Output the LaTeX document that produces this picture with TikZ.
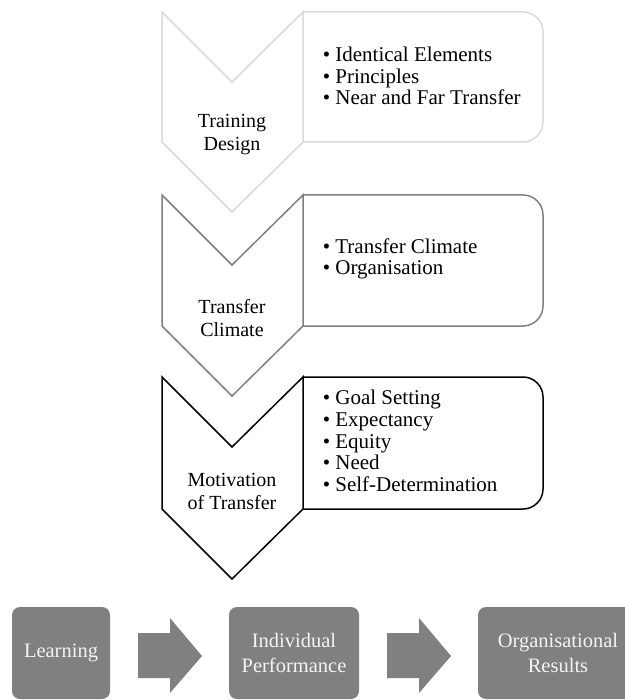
\documentclass[tikz,border=0pt]{standalone}
\usepackage{fontspec}
\setmainfont{Liberation Serif}
\definecolor{lightline}{HTML}{D9D9D9}
\definecolor{midline}{HTML}{808080}
\definecolor{blockfill}{HTML}{808080}
\definecolor{blocktext}{HTML}{F4F4F4}
\begin{document}
\begin{tikzpicture}[x=1pt, y=-1pt, line width=1.5pt, line join=miter]
  \tikzset{chevtext/.style={align=center, inner sep=0pt,
                            font=\fontsize{20}{23}\selectfont}}
  \tikzset{listtext/.style={align=left, anchor=west, inner sep=0pt,
                            font=\fontsize{21}{21.7}\selectfont}}
  \tikzset{resultbox/.style={fill=blockfill, draw=none, rounded corners=8pt,
                             text=blocktext, align=center, inner sep=0pt,
                             minimum height=92pt,
                             font=\fontsize{20.5}{25}\selectfont}}
  \useasboundingbox (0,0) rectangle (624,700);

  % training design
  \draw[lightline] (162,12) -- (232,82) -- (303,12) -- (303,142)
                   -- (232,212) -- (162,142) -- cycle;
  \draw[lightline, rounded corners=20pt] (303,12) -- (543,12) -- (543,142)
                   -- (303,142);
  \node[chevtext] (design) at (232,135) {Training\\Design};
  \node[listtext] (designlist) at (322,76)
       {• Identical Elements\\• Principles\\• Near and Far Transfer};

  % transfer climate
  \draw[midline] (162,195) -- (232,265) -- (303,195) -- (303,326)
                 -- (232,396) -- (162,326) -- cycle;
  \draw[midline, rounded corners=20pt] (303,195) -- (543,195) -- (543,326)
                 -- (303,326);
  \node[chevtext] (climate) at (232,318) {Transfer\\Climate};
  \node[listtext] (climatelist) at (322,259)
       {• Transfer Climate\\• Organisation};

  % motivation
  \draw[black] (162,377) -- (232,447) -- (303,377) -- (303,509)
               -- (232,579) -- (162,509) -- cycle;
  \draw[black, rounded corners=20pt] (303,377) -- (543,377) -- (543,509)
               -- (303,509);
  \node[chevtext] (motivation) at (232,491) {Motivation\\of Transfer};
  \node[listtext] (motivationlist) at (322,441)
       {• Goal Setting\\• Expectancy\\• Equity\\• Need\\• Self-Determination};

  % results row
  \node[resultbox, minimum width=98pt]  (learning)    at (61,653)  {Learning};
  \node[resultbox, minimum width=130pt] (performance) at (294,653) {Individual\\Performance};
  \node[resultbox, minimum width=160pt] (results)     at (558,653) {Organisational\\Results};
  \fill[blockfill] (138,633) -- (170,633) -- (170,618) -- (202,656)
                   -- (170,693) -- (170,678) -- (138,678) -- cycle;
  \fill[blockfill] (387,633) -- (419,633) -- (419,618) -- (451,656)
                   -- (419,693) -- (419,678) -- (387,678) -- cycle;
\end{tikzpicture}
\end{document}
